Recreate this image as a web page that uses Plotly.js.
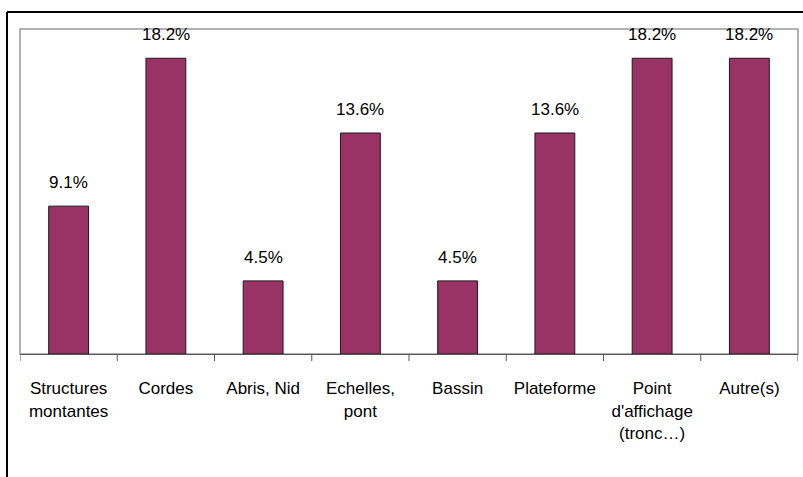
<!DOCTYPE html>
<html>
<head>
<meta charset="utf-8">
<script src="https://cdn.plot.ly/plotly-3.0.1.min.js"></script>
<style>html,body{margin:0;padding:0;background:#fff;}#chart{width:803px;height:477px;}</style>
</head>
<body>
<div id="chart"></div>
<script>
const categories = ["Structures<br>montantes", "Cordes", "Abris, Nid", "Echelles,<br>pont", "Bassin", "Plateforme", "Point<br>d'affichage<br>(tronc…)", "Autre(s)"];
const values = [9.1, 18.2, 4.5, 13.6, 4.5, 13.6, 18.2, 18.2];
const valueLabels = ["9.1%", "18.2%", "4.5%", "13.6%", "4.5%", "13.6%", "18.2%", "18.2%"];

const FONT = '"Liberation Sans", Arial, sans-serif';
const idx = categories.map((c, i) => i);

const trace = {
  type: 'bar',
  x: idx,
  y: values,
  width: 0.41,
  marker: {color: '#993366', line: {color: '#1a1a1a', width: 1}},
  hoverinfo: 'none'
};

const annotations = values.map((v, i) => ({
  x: i, y: v, xref: 'x', yref: 'y',
  text: valueLabels[i], showarrow: false,
  yanchor: 'bottom', yshift: 12,
  font: {family: FONT, size: 17, color: '#000'}
}));

const L = 20, R = 5, T = 29, B = 123, W = 803, H = 477;
const pw = W - L - R, ph = H - T - B;
const px = v => (v - L) / pw;
const py = v => (H - B - v) / ph;

const layout = {
  width: W, height: H,
  margin: {l: L, r: R, t: T, b: B, pad: 0},
  paper_bgcolor: '#fff', plot_bgcolor: '#fff',
  showlegend: false,
  font: {family: FONT, size: 17, color: '#000'},
  xaxis: {
    type: 'linear',
    range: [-0.5, categories.length - 0.5],
    tickmode: 'array', tickvals: idx, ticktext: categories,
    tickangle: 0, ticks: 'outside', ticklen: 19, tickcolor: 'rgba(0,0,0,0)',
    showgrid: false, zeroline: false,
    showline: true, linecolor: '#555', linewidth: 1,
    tickfont: {family: FONT, size: 17, color: '#000'},
    fixedrange: true
  },
  yaxis: {
    range: [0, 20], showticklabels: false, ticks: '', showgrid: false,
    zeroline: false, showline: false, fixedrange: true
  },
  annotations: annotations,
  shapes: [
    {type: 'rect', xref: 'paper', yref: 'paper', x0: 0, x1: 1, y0: 0, y1: 1,
     line: {color: '#999', width: 1.5}, layer: 'below'},
    {type: 'line', xref: 'paper', yref: 'paper', x0: px(7), x1: px(7), y0: py(12), y1: py(495),
     line: {color: '#000', width: 2}},
    {type: 'line', xref: 'paper', yref: 'paper', x0: px(7), x1: px(815), y0: py(12), y1: py(12),
     line: {color: '#000', width: 2}}
  ].concat(Array.from({length: categories.length + 1}, (_, k) => ({
    type: 'line', xref: 'x', yref: 'paper', x0: k - 0.5, x1: k - 0.5, y0: 0, y1: py(361),
    line: {color: '#555', width: 1}
  })))
};

Plotly.newPlot('chart', [trace], layout, {displayModeBar: false, staticPlot: true});
</script>
</body>
</html>
